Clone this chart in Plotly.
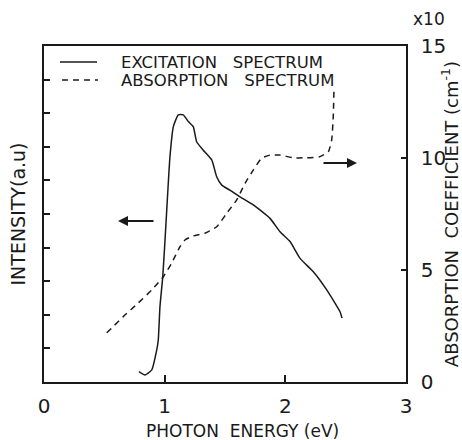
import plotly.graph_objects as go

# Excitation spectrum (left axis, arbitrary units 0-10)
exc_energy = [0.787, 0.837, 0.893, 0.934, 0.947, 0.961, 0.984, 1.003, 1.022, 1.044, 1.072,
              1.113, 1.154, 1.196, 1.237, 1.265, 1.320, 1.390, 1.431, 1.473, 1.541, 1.624,
              1.734, 1.873, 1.956, 2.039, 2.122, 2.232, 2.343, 2.453, 2.47]
exc_intensity = [0.31, 0.21, 0.36, 0.95, 1.25, 2.24, 3.13, 4.23, 5.42, 6.71, 7.60,
                 7.95, 7.95, 7.75, 7.60, 7.15, 6.90, 6.61, 6.11, 5.86, 5.71, 5.51,
                 5.27, 4.87, 4.47, 4.18, 3.68, 3.28, 2.74, 2.09, 1.90]

# Absorption spectrum (right axis, x10 cm^-1)
abs_energy = [0.52, 0.561, 0.657, 0.781, 0.893, 0.989, 1.058, 1.127, 1.168, 1.237, 1.334,
              1.431, 1.514, 1.597, 1.666, 1.734, 1.804, 1.873, 1.956, 2.066, 2.177, 2.287,
              2.356, 2.384, 2.397, 2.403]
abs_coeff = [2.20, 2.41, 2.92, 3.53, 4.11, 4.70, 5.31, 6.04, 6.34, 6.52, 6.64,
             6.93, 7.53, 8.13, 8.87, 9.46, 9.99, 10.13, 10.13, 10.01, 10.01, 10.06,
             10.28, 10.80, 11.84, 13.04]

x_ticks = [0, 1, 2, 3]
x_ticklabels = ["0", "1", "2", "3"]
right_ticks = [0, 5, 10, 15]
right_ticklabels = ["0", "5", "10", "15"]
left_ticks = [1, 2, 3, 4, 5, 6, 7, 8, 9]

INK = "#1a1a1a"
FONT = "DejaVu Sans"

fig = go.Figure()
fig.add_trace(go.Scatter(x=exc_energy, y=exc_intensity, mode="lines",
                         line=dict(color=INK, width=1.5, shape="spline", smoothing=0.5),
                         name="EXCITATION SPECTRUM", yaxis="y", showlegend=False))
fig.add_trace(go.Scatter(x=abs_energy, y=abs_coeff, mode="lines",
                         line=dict(color=INK, width=1.5, dash="6px,5px", shape="spline", smoothing=0.5),
                         name="ABSORPTION SPECTRUM", yaxis="y2", showlegend=False))

fig.update_layout(
    width=462, height=440,
    margin=dict(l=44, r=56, t=46, b=58),
    paper_bgcolor="white", plot_bgcolor="white",
    font=dict(family=FONT, color=INK),
    xaxis=dict(range=[0, 3], tickvals=x_ticks, ticktext=x_ticklabels, automargin=False,
               ticks="inside", ticklen=7, tickwidth=1.5, tickcolor=INK,
               showline=True, linecolor=INK, linewidth=1.5, mirror=True,
               showgrid=False, zeroline=False, ticklabelstandoff=5,
               tickfont=dict(size=20, family=FONT)),
    yaxis=dict(range=[0, 10], tickvals=left_ticks, showticklabels=False, automargin=False,
               ticks="inside", ticklen=6, tickwidth=1.5, tickcolor=INK,
               showline=True, linecolor=INK, linewidth=1.5,
               showgrid=False, zeroline=False,
               title=dict(text="INTENSITY(a.u)", font=dict(size=19, family=FONT), standoff=12)),
    yaxis2=dict(range=[0, 15], overlaying="y", side="right", automargin=False,
                tickvals=right_ticks, ticktext=right_ticklabels,
                ticks="inside", ticklen=5, tickwidth=1.5, tickcolor=INK,
                showline=True, linecolor=INK, linewidth=1.5,
                showgrid=False, zeroline=False,
                tickfont=dict(size=20, family=FONT), ticklabelstandoff=9,
                title=dict(text="ABSORPTION  COEFFICIENT (cm<sup>-1</sup>)", font=dict(size=18, family=FONT), standoff=6)),
)

# x axis title, placed slightly right of centre as in the original
fig.add_annotation(xref="paper", yref="paper", x=(242-44)/362, y=-(431-382)/336, xanchor="center", yanchor="middle",
                   text="PHOTON  ENERGY (eV)", showarrow=False, font=dict(size=17, family=FONT, color=INK))

# legend (line samples + text)
fig.add_shape(type="line", xref="paper", yref="paper", x0=16/362, x1=53/362,
              y0=(382-62)/336, y1=(382-62)/336, line=dict(color=INK, width=1.5))
fig.add_shape(type="line", xref="paper", yref="paper", x0=18/362, x1=54/362,
              y0=(382-80)/336, y1=(382-80)/336, line=dict(color=INK, width=1.5, dash="6px,5px"))
fig.add_annotation(xref="paper", yref="paper", x=75/362, y=(382-62)/336, xanchor="left", yanchor="middle",
                   text="EXCITATION   SPECTRUM", showarrow=False, font=dict(size=16.5, family=FONT, color=INK))
fig.add_annotation(xref="paper", yref="paper", x=75/362, y=(382-80)/336, xanchor="left", yanchor="middle",
                   text="ABSORPTION   SPECTRUM", showarrow=False, font=dict(size=16.5, family=FONT, color=INK))

# x10 multiplier
fig.add_annotation(xref="paper", yref="paper", x=(429-44)/362, y=(382-19)/336, xanchor="center", yanchor="middle",
                   text="x10", showarrow=False, font=dict(size=17, family=FONT, color=INK))

# arrows pointing to axes
fig.add_annotation(x=0.613, y=4.79, ax=0.92, ay=4.79, xref="x", yref="y", axref="x", ayref="y",
                   text="", showarrow=True, arrowhead=2, arrowsize=1, arrowwidth=2, arrowcolor=INK)
fig.add_annotation(x=2.594, y=9.78, ax=2.304, ay=9.78, xref="x", yref="y2", axref="x", ayref="y2",
                   text="", showarrow=True, arrowhead=2, arrowsize=1, arrowwidth=2, arrowcolor=INK)

fig.write_html("out.html")
